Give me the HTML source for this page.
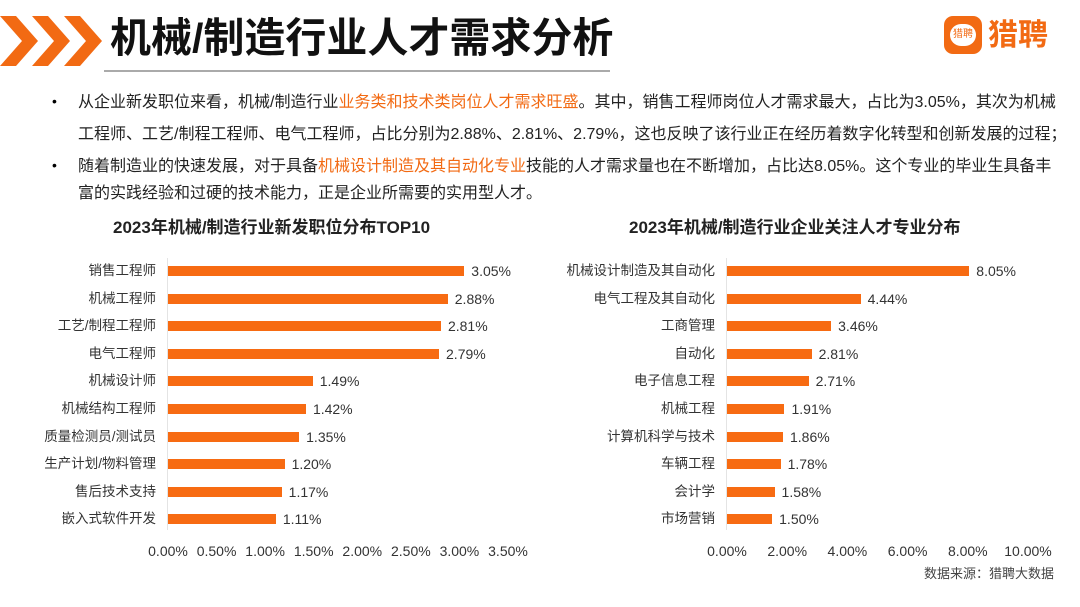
<!DOCTYPE html>
<html><head><meta charset="utf-8"><style>
body{margin:0;width:1080px;height:607px;background:#fff;overflow:hidden;font-family:"Liberation Sans","Noto Sans CJK SC",sans-serif;position:relative}
.t{position:absolute;white-space:nowrap}
.p{font-size:16px;color:#222;left:78px;line-height:20px}
.o{color:#f26a13}
.b{position:absolute;font-size:14px;color:#333;line-height:16px;white-space:nowrap}
</style></head><body>
<svg style="position:absolute;left:0;top:14px" width="110" height="56">
<polygon points="0,2 16,2 38,27 16,52 0,52 22,27" fill="#f26a13"/>
<polygon points="32,2 48,2 70,27 48,52 32,52 54,27" fill="#f26a13"/>
<polygon points="64,2 80,2 102,27 80,52 64,52 86,27" fill="#f26a13"/>
</svg>
<div class="t" style="left:110px;top:14px;font-size:41px;line-height:48px;font-weight:bold;color:#111">机械/制造行业人才需求分析</div>
<div style="position:absolute;left:104px;top:70px;width:506px;height:2px;background:#aaa"></div>
<div style="position:absolute;left:944px;top:16px;width:120px;height:44px">
<div style="position:absolute;left:0;top:0;width:38px;height:38px;background:#f26a13;border-radius:9px"></div>
<div style="position:absolute;left:6px;top:8px;width:26px;height:22px;background:#fff;border-radius:11px;font-size:10px;color:#f26a13;text-align:center;line-height:22px">猎聘</div>
<div style="position:absolute;left:44px;top:0;font-size:30px;line-height:40px;color:#f26a13;font-weight:bold">猎聘</div>
</div>
<div class="t" style="left:52px;top:93px;font-size:14px">•</div>
<div class="t p" style="top:93px">从企业新发职位来看，机械/制造行业<span class="o">业务类和技术类岗位人才需求旺盛</span>。其中，销售工程师岗位人才需求最大，占比为3.05%，其次为机械</div>
<div class="t p" style="top:125px">工程师、工艺/制程工程师、电气工程师，占比分别为2.88%、2.81%、2.79%，这也反映了该行业正在经历着数字化转型和创新发展的过程；</div>
<div class="t" style="left:52px;top:157px;font-size:14px">•</div>
<div class="t p" style="top:157px">随着制造业的快速发展，对于具备<span class="o">机械设计制造及其自动化专业</span>技能的人才需求量也在不断增加，占比达8.05%。这个专业的毕业生具备丰</div>
<div class="t p" style="top:184px">富的实践经验和过硬的技术能力，正是企业所需要的实用型人才。</div>
<div class="t" style="left:113px;top:217px;font-size:17px;line-height:22px;font-weight:bold;color:#222">2023年机械/制造行业新发职位分布TOP10</div>
<div class="t" style="left:629px;top:217px;font-size:17px;line-height:22px;font-weight:bold;color:#222">2023年机械/制造行业企业关注人才专业分布</div>
<div class="t" style="left:924px;top:566px;font-size:13px;line-height:16px;color:#444">数据来源：猎聘大数据</div>
<div id="c"></div>
<script>
const leftCats=["销售工程师","机械工程师","工艺/制程工程师","电气工程师","机械设计师","机械结构工程师","质量检测员/测试员","生产计划/物料管理","售后技术支持","嵌入式软件开发"];
const leftVals=[3.05,2.88,2.81,2.79,1.49,1.42,1.35,1.20,1.17,1.11];
const leftTicks=[0,0.5,1,1.5,2,2.5,3,3.5];
const rightCats=["机械设计制造及其自动化","电气工程及其自动化","工商管理","自动化","电子信息工程","机械工程","计算机科学与技术","车辆工程","会计学","市场营销"];
const rightVals=[8.05,4.44,3.46,2.81,2.71,1.91,1.86,1.78,1.58,1.50];
const rightTicks=[0,2,4,6,8,10];
const c=document.getElementById('c');
function chart(name,cats,vals,ticks,x0,x1,maxV){
  const sx=v=>x0+(x1-x0)*v/maxV;
  const sy=i=>271+i*27.6;
  const ax=document.createElement('div');
  
  
  ax.style.cssText=`position:absolute;left:${x0-1}px;top:258px;width:1px;height:272px;background:#e4e4e4`;
  c.appendChild(ax);
  cats.forEach((k,i)=>{
    const y=sy(i);
    const l=document.createElement('div');
    
    
    l.className='b';l.textContent=k;
    l.style.cssText+=`right:${1080-x0+12}px;top:${y-8}px;font-size:13.5px`;
    c.appendChild(l);
    const b=document.createElement('div');
    
    
    b.style.cssText=`position:absolute;left:${x0}px;top:${y-5}px;width:${sx(vals[i])-x0}px;height:10px;background:#f76b12`;
    c.appendChild(b);
    const v=document.createElement('div');
    
    
    v.className='b';v.textContent=vals[i].toFixed(2)+'%';
    v.style.cssText+=`left:${sx(vals[i])+7}px;top:${y-8}px`;
    c.appendChild(v);
  });
  ticks.forEach(t=>{
    const d=document.createElement('div');
    
    
    d.className='b';d.textContent=t.toFixed(2)+'%';
    d.style.cssText+=`left:${sx(t)-30}px;width:60px;text-align:center;top:543px`;
    c.appendChild(d);
  });
}
chart('left-chart',leftCats,leftVals,leftTicks,168,508,3.5);
chart('right-chart',rightCats,rightVals,rightTicks,727,1028,10);
</script>
</body></html>
